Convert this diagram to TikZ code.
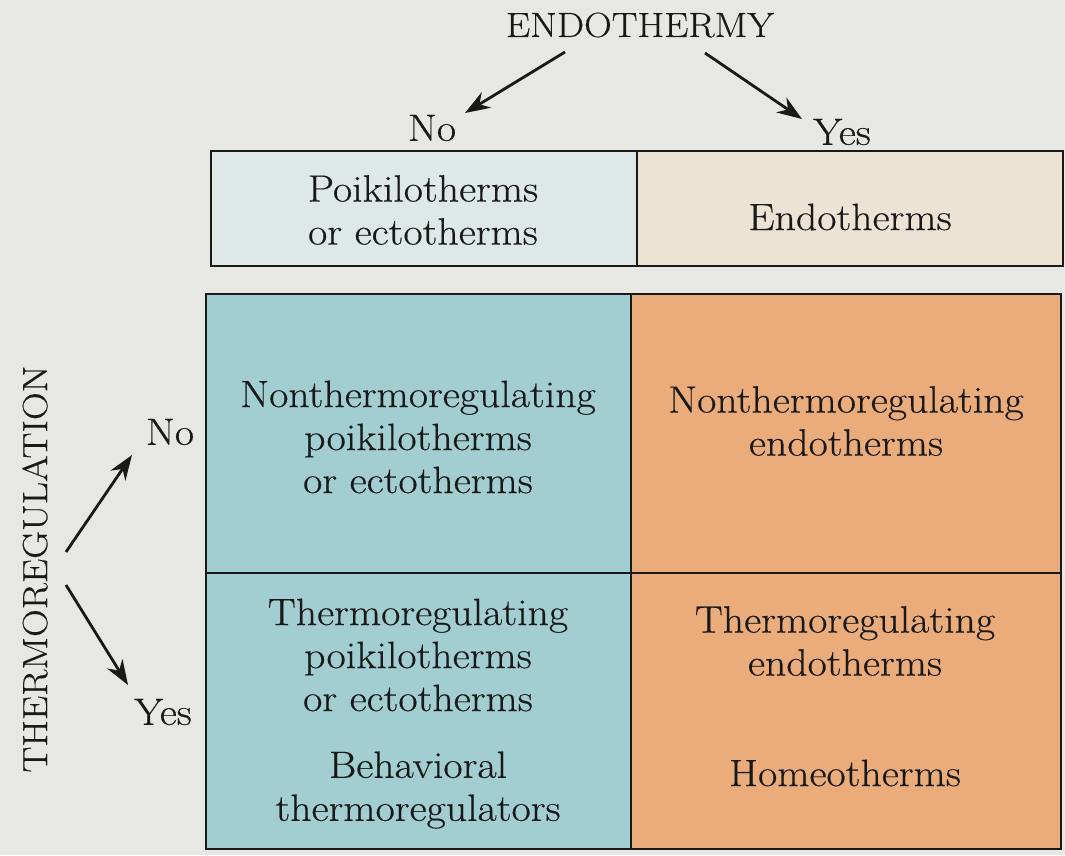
\documentclass[tikz,border=0pt]{standalone}
\usepackage{fontspec}
\setmainfont{Latin Modern Roman}[FakeStretch=1.1,FakeBold=0.4]
\usetikzlibrary{arrows.meta}
\definecolor{bgc}{RGB}{231,231,227}
\definecolor{tlc}{RGB}{222,232,230}
\definecolor{trc}{RGB}{237,227,213}
\definecolor{teal}{RGB}{162,205,209}
\definecolor{orng}{RGB}{235,172,124}
\begin{document}
\begin{tikzpicture}[x=1pt,y=-1pt,
  cell/.style={draw=black!90,line width=1.8pt,anchor=north west,inner sep=0pt},
  lbl/.style={font=\fontsize{38}{43}\selectfont,align=center,inner sep=0pt,text=black!90},
  caplbl/.style={font=\fontsize{35}{43}\selectfont,inner sep=0pt,text=black!90},
  arr/.style={line width=2.8pt,black!90,-{Stealth[length=25pt,width=18pt]}}]
\fill[bgc] (0,0) rectangle (1065,855);
\useasboundingbox (0,0) rectangle (1065,855);
% cells
\node[cell,fill=tlc,minimum width=426pt,minimum height=115pt] (tl) at (210,150) {};
\node[cell,fill=trc,minimum width=426pt,minimum height=115pt] (tr) at (636,150) {};
\node[cell,fill=teal,minimum width=425pt,minimum height=279pt] (nw) at (205,293) {};
\node[cell,fill=orng,minimum width=430pt,minimum height=279pt] (ne) at (630,293) {};
\node[cell,fill=teal,minimum width=425pt,minimum height=276pt] (sw) at (205,572) {};
\node[cell,fill=orng,minimum width=430pt,minimum height=276pt] (se) at (630,572) {};
% texts
\node[caplbl] (endo) at (640,25) {ENDOTHERMY};
\node[lbl] (noT) at (432,128) {No};
\node[lbl] (yesT) at (842,132) {Yes};
\node[caplbl] (therm) at (35,569) [rotate=90] {THERMOREGULATION};
\node[lbl] (noL) at (170,432) {No};
\node[lbl] (yesL) at (163,712) {Yes};
\node[lbl] (tlt) at (423,210) {Poikilotherms\\or ectotherms};
\node[lbl] (trt) at (850,217) {Endotherms};
\node[lbl] (nwt) at (418,437) {Nonthermoregulating\\poikilotherms\\or ectotherms};
\node[lbl] (net) at (846,421) {Nonthermoregulating\\endotherms};
\node[lbl] (swt) at (418,655) {Thermoregulating\\poikilotherms\\or ectotherms};
\node[lbl] (swb) at (418,790) {Behavioral\\thermoregulators};
\node[lbl] (set) at (845,641) {Thermoregulating\\endotherms};
\node[lbl] (seb) at (845,773) {Homeotherms};
% arrows
\coordinate (e1) at (565,52);
\coordinate (e2) at (705,53);
\coordinate (t1) at (66,552);
\coordinate (t2) at (66,585);
\draw[arr] (e1) -- (465,113);
\draw[arr] (e2) -- (802,119);
\draw[arr] (t1) -- (132,455);
\draw[arr] (t2) -- (128,685);
\end{tikzpicture}
\end{document}
